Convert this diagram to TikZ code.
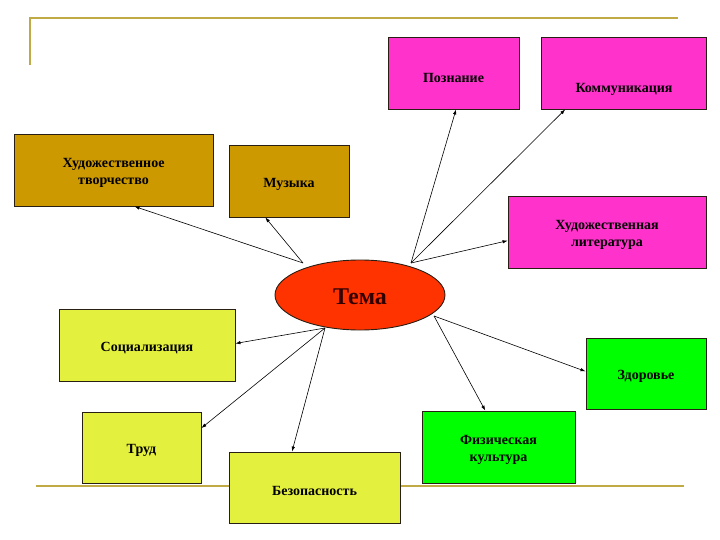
\documentclass[tikz,border=0pt]{standalone}
\usepackage{fontspec}
\setmainfont{Liberation Serif}
\usetikzlibrary{shapes.geometric,arrows.meta}
\definecolor{deco}{RGB}{192,170,70}
\definecolor{ochre}{RGB}{204,153,0}
\definecolor{magent}{RGB}{255,51,204}
\definecolor{lime}{RGB}{228,240,62}
\definecolor{brgreen}{RGB}{0,255,0}
\definecolor{temared}{RGB}{255,51,0}
\definecolor{boxedge}{RGB}{40,30,20}
\definecolor{temafont}{RGB}{50,0,0}
\newcommand\lowr[2][3pt]{\raisebox{-#1}[\height][\depth]{#2}}
\tikzset{
  box/.style={draw=boxedge, line width=0.9pt, rectangle, inner sep=0pt, align=center,
    font=\fontsize{14}{16.5}\selectfont\bfseries, text=black},
  decoline/.style={draw=deco, line width=1.8pt},
  conn/.style={draw=black, line width=0.6pt, -{Latex[length=5pt,width=3.5pt]}},
}
\begin{document}
\begin{tikzpicture}[x=1pt,y=-1pt]
\useasboundingbox (0,0) rectangle (720,540);
% decorative lines
\draw[decoline] (30,65) -- (30,18) -- (678,18);
\draw[decoline] (36,486) -- (684,486);
% central ellipse
\node[ellipse, draw=boxedge, line width=0.9pt, fill=temared, minimum width=170pt, minimum height=70pt,
  inner sep=0pt, font=\fontsize{24}{28}\selectfont\bfseries, text=temafont] (tema) at (360,295) {\lowr[2pt]{Тема}};
% boxes
\node[box, fill=magent, minimum width=131pt, minimum height=72pt] (pozn) at (453.5,73) {\lowr[5pt]{Познание}};
\node[box, fill=magent, minimum width=165pt, minimum height=72pt] (komm) at (623.5,73) {};
\node[font=\fontsize{14}{16.5}\selectfont\bfseries, inner sep=0pt] (kommtext) at (624,89) {Коммуникация};
\node[box, fill=ochre, minimum width=199pt, minimum height=72pt] (hudtv) at (113.5,170) {\lowr{Художественное}\\\lowr{творчество}};
\node[box, fill=ochre, minimum width=120pt, minimum height=72pt] (muz) at (289,181) {\lowr{Музыка}};
\node[box, fill=magent, minimum width=198pt, minimum height=72pt] (hudlit) at (607,232) {\lowr{Художественная}\\\lowr{литература}};
\node[box, fill=lime, minimum width=176pt, minimum height=72pt] (soc) at (147,345) {\lowr{Социализация}};
\node[box, fill=lime, minimum width=119pt, minimum height=71pt] (trud) at (141.5,447.5) {\lowr{Труд}};
\node[box, fill=lime, minimum width=171pt, minimum height=71pt] (bez) at (314.5,487.5) {\lowr{Безопасность}};
\node[box, fill=brgreen, minimum width=153pt, minimum height=72pt] (fiz) at (498.5,447) {\lowr{Физическая}\\\lowr{культура}};
\node[box, fill=brgreen, minimum width=120pt, minimum height=71pt] (zdor) at (646,373.5) {\lowr{Здоровье}};
% start points near the ellipse
\coordinate (s1) at ([shift={(-57,-32)}]tema.center);
\coordinate (s2) at ([shift={(51,-32)}]tema.center);
\coordinate (s3) at ([shift={(-35,33)}]tema.center);
\coordinate (s4) at ([shift={(74,21)}]tema.center);
% connectors
\draw[conn] (s1) -- (hudtv.-60);
\draw[conn] (s1) -- (muz.-123);
\draw[conn] (s2) -- (pozn.-86);
\draw[conn] (s2) -- (komm.-148);
\draw[conn] (s2) -- (hudlit.-175);
\draw[conn] (s3) -- (soc.1);
\draw[conn] (s3) -- (trud.18);
\draw[conn] (s3) -- (bez.122);
\draw[conn] (s4) -- (zdor.178);
\draw[conn] (s4) -- (fiz.110);
\end{tikzpicture}
\end{document}
